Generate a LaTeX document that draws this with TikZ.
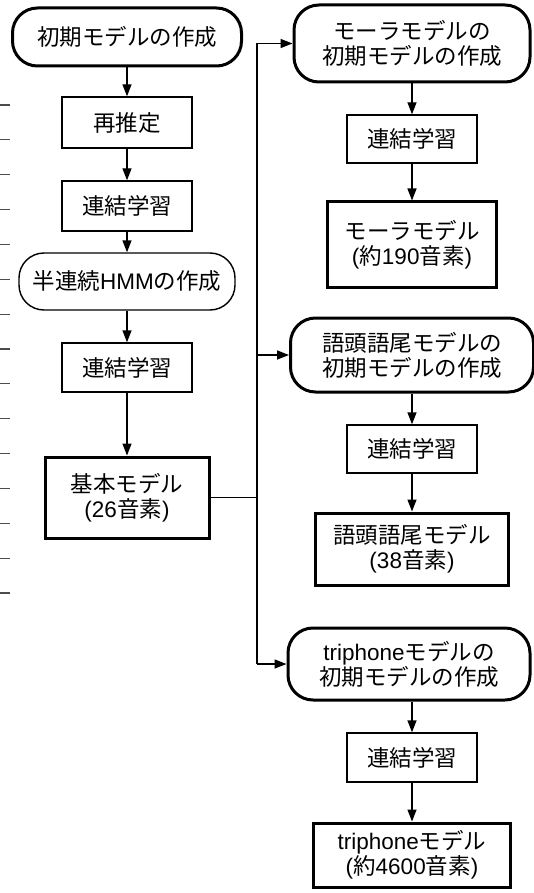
\documentclass[tikz,border=0pt]{standalone}
\usepackage{fontspec}
\setmainfont{Liberation Sans}
\newfontfamily\jp{Noto Sans CJK JP}
\usetikzlibrary{arrows.meta}
\tikzset{
  base/.style={draw=black, align=center, inner sep=0pt, font=\fontsize{22.5}{25}\selectfont},
  thinbox/.style={base, line width=1.4pt},
  thickbox/.style={base, line width=3pt},
  startnode/.style={base, line width=3pt, rounded corners=25pt},
  softnode/.style={base, line width=1.4pt, rounded corners=25pt},
  arr/.style={line width=1.4pt, -{Triangle[length=12pt,width=9pt]}},
  conn/.style={line width=1.4pt},
  tick/.style={line width=1.2pt, gray!60!black}
}
\begin{document}
\begin{tikzpicture}[x=1pt,y=-1pt]
\useasboundingbox (0,0) rectangle (534,893);
% left-margin ticks
\foreach \k in {0,...,14} {
  \draw[tick] (0,{105+34.86*\k}) -- (10,{105+34.86*\k});
}
% left column
\node[startnode, minimum width=229pt, minimum height=58pt] (n1) at (127,37) {\jp 初期モデルの作成};
\node[thinbox, minimum width=130pt, minimum height=51pt] (re) at (127,122.5) {\jp 再推定};
\node[thinbox, minimum width=130pt, minimum height=50pt] (ren1) at (127,206) {\jp 連結学習};
\node[softnode, minimum width=216pt, minimum height=57pt] (hmm) at (127,281.5) {{\jp 半連続}HMM{\jp の作成}};
\node[thinbox, minimum width=130pt, minimum height=49pt] (ren2) at (127,367.5) {\jp 連結学習};
\node[thickbox, minimum width=164pt, minimum height=81pt] (kihon) at (127,497.5) {{\jp 基本モデル}\\(26{\jp 音素})};
% right column
\node[startnode, minimum width=236pt, minimum height=77pt] (m0) at (412,43.5) {{\jp モーラモデルの}\\{\jp 初期モデルの作成}};
\node[thinbox, minimum width=130pt, minimum height=48pt] (ren3) at (412,139) {\jp 連結学習};
\node[thickbox, minimum width=169pt, minimum height=85pt] (m1) at (412,244.5) {{\jp モーラモデル}\\({\jp 約}190{\jp 音素})};
\node[startnode, minimum width=243pt, minimum height=74pt] (g0) at (412,355) {{\jp 語頭語尾モデルの}\\{\jp 初期モデルの作成}};
\node[thinbox, minimum width=130pt, minimum height=48pt] (ren4) at (412,449) {\jp 連結学習};
\node[thickbox, minimum width=193pt, minimum height=72pt] (g1) at (412,549) {{\jp 語頭語尾モデル}\\(38{\jp 音素})};
\node[startnode, minimum width=242pt, minimum height=72pt] (t0) at (409,664) {triphone{\jp モデルの}\\{\jp 初期モデルの作成}};
\node[thinbox, minimum width=130pt, minimum height=49pt] (ren5) at (412,757.5) {\jp 連結学習};
\node[thickbox, minimum width=197pt, minimum height=64pt] (t1) at (412,855) {triphone{\jp モデル}\\({\jp 約}4600{\jp 音素})};
% junction coordinates
\coordinate (jk) at (257,497.5);
\coordinate (jm) at (257,43.5);
\coordinate (jg) at (257,355);
\coordinate (jt) at (257,664);
% left arrows
\draw[arr] (n1) -- (re);
\draw[arr] (re) -- (ren1);
\draw[arr] (ren1) -- (hmm);
\draw[arr] (hmm) -- (ren2);
\draw[arr] (ren2) -- (kihon);
% branch
\draw[conn] (kihon.east) -- (jk);
\draw[conn] (jm) -- (jt);
\draw[arr] (jm) -- (m0);
\draw[arr] (jg) -- (g0);
\draw[arr] (jt) -- (t0);
% right arrows
\draw[arr] (m0.south -| ren3) -- (ren3);
\draw[arr] (ren3) -- (m1);
\draw[arr] (g0.south -| ren4) -- (ren4);
\draw[arr] (ren4) -- (g1);
\draw[arr] (t0.south -| ren5) -- (ren5);
\draw[arr] (ren5) -- (t1);
\end{tikzpicture}
\end{document}
